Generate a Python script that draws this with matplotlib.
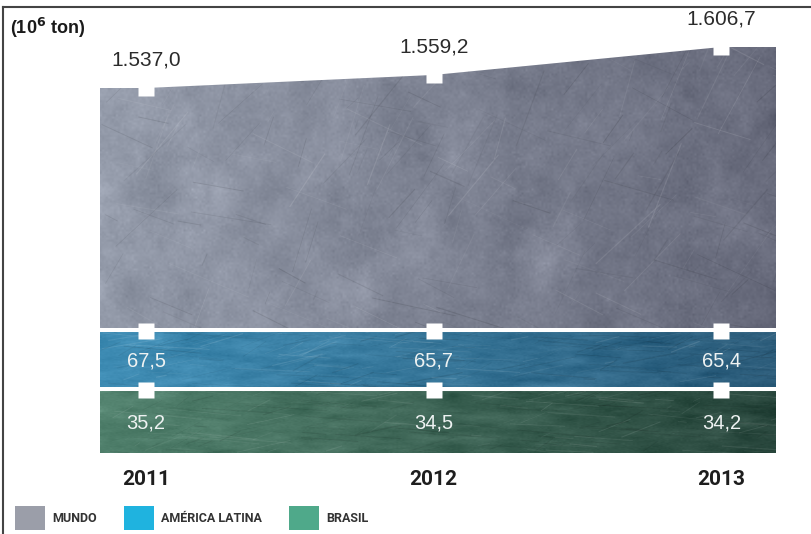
import numpy as np
import matplotlib.pyplot as plt
from matplotlib.lines import Line2D
from matplotlib.patches import Patch

years = [2011, 2012, 2013]
mundo = [1537.0, 1559.2, 1606.7]
america_latina = [67.5, 65.7, 65.4]
brasil = [35.2, 34.5, 34.2]

labels_mundo = ['1.537,0', '1.559,2', '1.606,7']
labels_al = ['67,5', '65,7', '65,4']
labels_br = ['35,2', '34,5', '34,2']
legend_names = ['MUNDO', 'AMÉRICA LATINA', 'BRASIL']
legend_colors = ['#9b9ea9', '#1fb3df', '#4fa98a']

W, H = 811, 534
XLIM = (2010.84, 2013.19)
FONT = ['Liberation Sans', 'DejaVu Sans']
BOLD_FONT = ['Roboto', 'Liberation Sans', 'DejaVu Sans']

plt.rcParams['font.family'] = FONT
fig = plt.figure(figsize=(W / 100, H / 100), dpi=100)


def px_axes(left, top, right, bottom):
    # axes placed by pixel box (origin top-left)
    return fig.add_axes([left / W, 1 - bottom / H, (right - left) / W, (bottom - top) / H])


def smooth_noise(rng, shape, coarse, scale):
    # bilinear upsampling of a coarse random grid
    g = rng.normal(0, scale, coarse)
    ry = np.linspace(0, coarse[0] - 1, shape[0])
    rx = np.linspace(0, coarse[1] - 1, shape[1])
    rows = np.array([np.interp(rx, np.arange(coarse[1]), r) for r in g])
    return np.array([np.interp(ry, np.arange(coarse[0]), c) for c in rows.T]).T


def textured_fill(ax, x, y1, y2, c_left, c_right, seed):
    poly = ax.fill_between(x, y1, y2, facecolor='none', edgecolor='none')
    clip = poly.get_paths()[0]
    x0, x1 = ax.get_xlim()
    b0, b1 = ax.get_ylim()
    rng = np.random.default_rng(seed)
    t = np.linspace(0, 1, 340)
    grad = np.array(c_left)[None, :] * (1 - t[:, None]) + np.array(c_right)[None, :] * t[:, None]
    img = np.repeat(grad[None, :, :], 150, axis=0) / 255.0
    # mottled surface: soft blotches plus fine grain
    blot = smooth_noise(rng, img.shape[:2], (10, 24), 0.025)
    blot += smooth_noise(rng, img.shape[:2], (30, 70), 0.012)
    fine = rng.normal(0, 0.012, img.shape[:2])
    img = img + (blot + fine)[:, :, None]
    im = ax.imshow(np.clip(img, 0, 1), extent=(x0, x1, b0, b1), aspect='auto',
                   interpolation='bilinear', zorder=1)
    im.set_clip_path(clip, transform=ax.transData)
    # faint scratches across the metal
    for _ in range(220):
        xs = rng.uniform(x0, x1)
        ys = rng.uniform(b0, b1)
        ang = rng.choice([rng.uniform(0.7, 1.3), rng.uniform(-0.5, -0.15)])
        L = rng.uniform(0.03, 0.3)
        dx = L * np.cos(ang)
        dy = L * np.sin(ang) * (b1 - b0) / (x1 - x0) * 2.3
        col = 'black' if rng.random() < 0.6 else 'white'
        ln, = ax.plot([xs, xs + dx], [ys, ys + dy], color=col, lw=rng.uniform(0.3, 0.9),
                      alpha=rng.uniform(0.04, 0.11), zorder=2)
        ln.set_clip_path(clip, transform=ax.transData)


xs = np.linspace(XLIM[0], XLIM[1], 200)

# world production (upper block)
ax_m = px_axes(100, 20, 776, 328)
ax_m.set_xlim(XLIM)
ax_m.set_ylim(1129.0, 1652.6)
top = np.interp(xs, years, mundo)
textured_fill(ax_m, xs, np.full_like(xs, 1129.0), top, (150, 157, 172), (104, 107, 124), 1)
ax_m.plot(years, mundo, 's', ms=11.5, color='white', mec='none', zorder=5, clip_on=False)
for x, v, s in zip(years, mundo, labels_mundo):
    ax_m.annotate(s, (x, v), xytext=(0, 20), textcoords='offset points', ha='center',
                  va='center', fontsize=15, color='#2b2b2b')

# Latin America and Brazil bands
bands = [
    (331, 387, america_latina, labels_al, (64, 142, 182), (44, 92, 122), 2),
    (390, 453, brasil, labels_br, (82, 130, 110), (40, 70, 60), 3),
]
band_axes = []
for top_px, bot_px, vals, labs, cl, cr, seed in bands:
    ax = px_axes(100, top_px, 776, bot_px)
    ax.set_xlim(XLIM)
    ax.set_ylim(0, 1)
    textured_fill(ax, xs, np.zeros_like(xs), np.ones_like(xs), cl, cr, seed)
    ax.plot(years, np.ones(len(vals)), 's', ms=11.5, color='white', mec='none',
            zorder=5, clip_on=False)
    for x, s in zip(years, labs):
        ax.text(x, 0.47, s, ha='center', va='center', fontsize=14.5, color='#eef2f2', zorder=6)
    band_axes.append(ax)

for ax in [ax_m] + band_axes:
    for sp in ax.spines.values():
        sp.set_visible(False)
    ax.set_yticks([])
    ax.set_xticks([])

ax_b = band_axes[-1]
ax_b.set_xticks(years)
ax_b.set_xticklabels([str(y) for y in years], fontsize=15, fontweight='bold',
                     color='#1e1e1e', family=BOLD_FONT)
ax_b.tick_params(axis='x', length=0, pad=12)

# white separators between blocks
for y in (329.5, 388.5):
    fig.add_artist(Line2D([100 / W, 777 / W], [1 - y / H] * 2, color='white', lw=2.2, zorder=4))

fig.text(10 / W, 1 - 28 / H, r'(10$^{\mathbf{6}}$ ton)', fontsize=13, fontweight='bold',
         color='#1a1a1a', ha='left', va='center')

# page frame
fig.add_artist(Line2D([3 / W, 3 / W], [0, 1 - 7 / H], color='#444444', lw=1.5))
fig.add_artist(Line2D([3 / W, 1], [1 - 7 / H] * 2, color='#444444', lw=1.5))

handles = [Patch(facecolor=c, edgecolor='none') for c in legend_colors]
fig.legend(handles, legend_names, loc='upper left', bbox_to_anchor=(15 / W, 1 - 506 / H),
           ncol=3, frameon=False, borderpad=0, borderaxespad=0, handlelength=2.4,
           handleheight=2.6, handletextpad=0.55, columnspacing=2.2,
           prop={'family': BOLD_FONT, 'weight': 'bold', 'size': 9}, labelcolor='#333333')

fig.savefig('out.png', dpi=100)
